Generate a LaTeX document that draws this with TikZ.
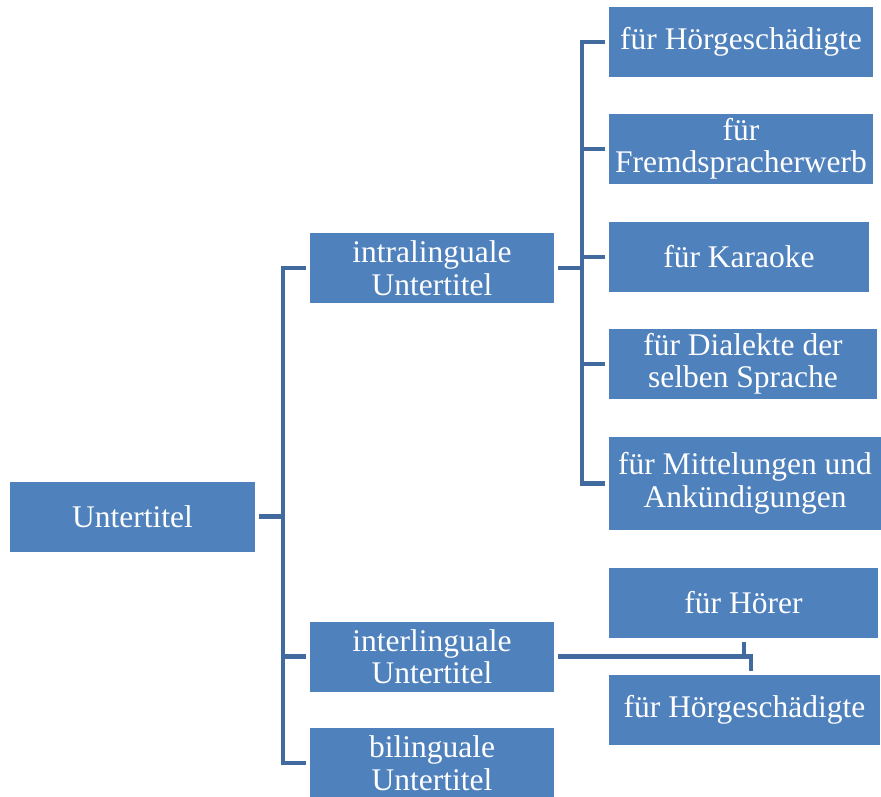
\documentclass[tikz,border=0pt]{standalone}
\usepackage{fontspec}
\setmainfont{Liberation Serif}
\newfontfamily\boxfont{Liberation Serif}
\definecolor{boxblue}{RGB}{79,129,189}
\definecolor{lineblue}{RGB}{65,106,158}
\tikzset{
  box/.style={rectangle, fill=boxblue, text=white, align=center, inner sep=2pt,
    outer sep=4pt, minimum height=70pt,
    font=\boxfont\fontsize{31.5}{32.5}\selectfont},
  conn/.style={draw=lineblue, line width=4.5pt}
}
\begin{document}
\begin{tikzpicture}[x=1pt,y=-1pt]
		%\draw[blue] (0,0) grid[step=100] (881,796);
		\useasboundingbox (0,0) rectangle (881,796);

		\node [box, minimum width=245pt] (root) at (132.5,516.5) {Untertitel};
		\node [box, minimum width=244pt] (intra) at (432,268) {intralinguale\\Untertitel};
		\node [box, minimum width=244pt] (inter) at (432,656.5) {interlinguale\\Untertitel};
		\node [box, minimum width=244pt] (bili) at (432,763) {bilinguale\\Untertitel};

		\node [box, minimum width=264pt] (hoergA) at (741,42) {für Hörgeschädigte};
		\node [box, minimum width=264pt] (fremd) at (741,149) {für\\Fremdspracherwerb};
		\node [box, minimum width=260pt] (karaoke) at (739,257) {für Karaoke};
		\node [box, minimum width=268pt] (dialekt) at (743,364) {für Dialekte der\\selben Sprache};
		\node [box, minimum width=272pt, minimum height=93pt] (mitt) at (745,483.5) {für Mittelungen und\\Ankündigungen};
		\node [box, minimum width=269pt] (hoerer) at (743.5,602.5) {für Hörer};
		\node [box, minimum width=271pt] (hoergB) at (744.5,710) {für Hörgeschädigte};

		\coordinate (trunkA) at (283,0);
		\coordinate (trunkB) at (582,0);
		\coordinate (jog) at (751,0);

		\draw [conn] (root.east) -- (root.east -| trunkA);
		\draw [conn] (intra.west) -| (trunkA |- bili.west) -- (bili.west);
		\draw [conn] (inter.west) -- (inter.west -| trunkA);

		\draw [conn] (intra.east) -- (intra.east -| trunkB);
		\draw [conn] (hoergA.west) -| (trunkB |- mitt.west) -- (mitt.west);
		\draw [conn] (fremd.west) -- (fremd.west -| trunkB);
		\draw [conn] (karaoke.west) -- (karaoke.west -| trunkB);
		\draw [conn] (dialekt.west) -- (dialekt.west -| trunkB);

		\draw [conn] (inter.east) -- (inter.east -| jog) -- (jog |- hoergB.north);
		\draw [conn] ([xshift=-7pt]inter.east -| jog) -- ([xshift=-7pt]jog |- hoerer.south);
	\end{tikzpicture}
\end{document}
